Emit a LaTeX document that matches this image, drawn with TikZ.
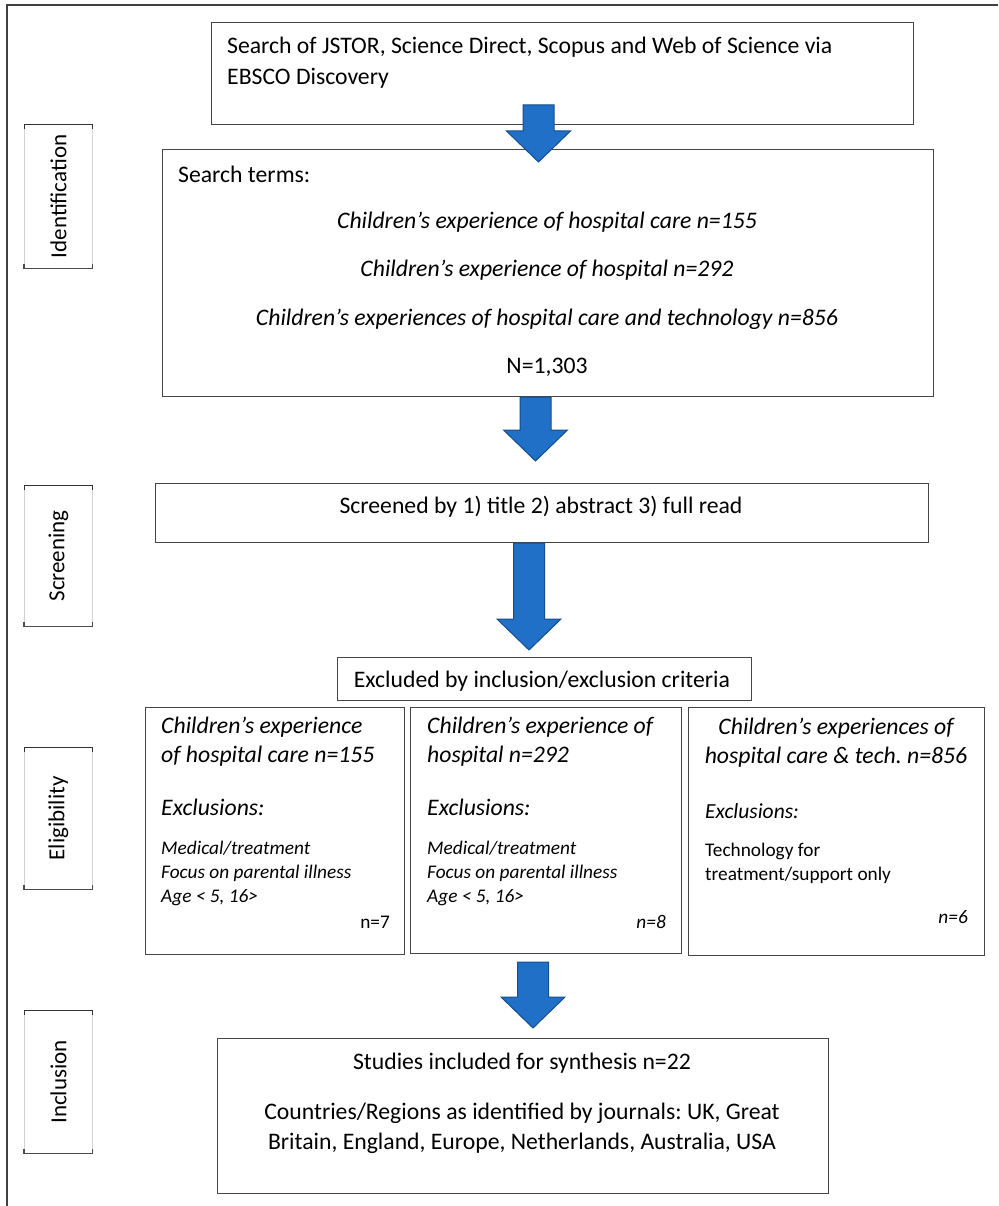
\documentclass[tikz,border=0pt]{standalone}
\usepackage{fontspec}
\setmainfont{Carlito}
\usetikzlibrary{calc}
\frenchspacing
\definecolor{arrowfill}{RGB}{31,112,198}
\definecolor{arrowline}{RGB}{22,78,140}
\definecolor{boxline}{RGB}{70,70,70}
\tikzset{
  framebox/.style={draw=boxline, line width=0.9pt, inner sep=0pt, anchor=north west, fill=white},
  sidebox/.style={draw=gray!35, line width=0.8pt, inner sep=0pt, anchor=north west, minimum width=68pt},
  txt/.style={inner sep=0pt, font=\fontsize{23.7}{28}\selectfont},
  itxt/.style={inner sep=0pt, font=\fontsize{23.7}{28}\selectfont\itshape},
  etitle/.style={inner sep=0pt, align=left, anchor=north west, font=\fontsize{23.7}{29}\selectfont\itshape},
  small/.style={inner sep=0pt, align=left, anchor=north west, font=\fontsize{19.3}{24}\selectfont},
  smallit/.style={small, font=\fontsize{19.3}{24}\selectfont\itshape},
  sidetxt/.style={inner sep=0pt, rotate=90, font=\fontsize{23}{26}\selectfont},
  blockarrow/.style={fill=arrowfill, draw=arrowline, line width=1pt, line join=miter},
  outer/.style={draw=black!75, line width=1.5pt}
}
% block arrow from top coordinate #1 to tip coordinate #2
\newcommand\blockarr[2]{%
  \path[blockarrow] let \p1=(#1), \p2=(#2) in
    (\x1-15.5pt,\y1) -- (\x1+15.5pt,\y1) -- (\x1+15.5pt,\y2+31pt) -- (\x1+32pt,\y2+31pt)
    -- (\x2,\y2) -- (\x1-32pt,\y2+31pt) -- (\x1-15.5pt,\y2+31pt) -- cycle;}
\newcommand\sidelabel[4]{% name, y top, height, text
  \node[sidebox, minimum height=#3pt] (#1) at (24,#2) {};
  \draw[black!80, line width=0.9pt] ([yshift=-5pt]#1.north west) -- (#1.north west) -- (#1.north east) -- ++(0,-5pt);
  \draw[black!70, line width=1.2pt] ([yshift=5pt]#1.south west) -- (#1.south west) -- (#1.south east) -- ++(0,5pt);
  \node[sidetxt] (#1t) at (#1.center) {#4};}
\begin{document}
\begin{tikzpicture}[x=1pt,y=-1pt]
\useasboundingbox (0,0) rectangle (998,1206);
\draw[outer] (7,1206) -- (7,5) -- (998,5);

% side labels
\sidelabel{sid}{124}{144}{Identification}
\sidelabel{ssc}{485}{141}{Screening}
\sidelabel{sel}{747}{142}{Eligibility}
\sidelabel{sin}{1010}{143}{Inclusion}

% box A
\node[framebox, minimum width=702pt, minimum height=102pt] (A) at (211,22) {};
\node[txt, anchor=west] (At1) at (227,47) {Search of JSTOR, Science Direct, Scopus and Web of Science via};
\node[txt, anchor=west] (At2) at (227,78) {EBSCO Discovery};

% box B
\node[framebox, minimum width=771pt, minimum height=247pt] (B) at (162,149) {};
\node[txt, anchor=west] (Bt0) at (178,174) {Search terms:};
\node[itxt] (Bt1) at (547,222) {Children’s experience of hospital care n=155};
\node[itxt] (Bt2) at (547,270) {Children’s experience of hospital n=292};
\node[itxt] (Bt3) at (547,319) {Children’s experiences of hospital care and technology n=856};
\node[txt] (Bt4) at (547,367) {N=1,303};

% box C
\node[framebox, minimum width=773pt, minimum height=59pt] (C) at (155,483) {};
\node[txt] (Ct) at (541,507) {Screened by 1) title 2) abstract 3) full read};

% box D
\node[framebox, minimum width=414pt, minimum height=43pt] (D) at (337,657) {};
\node[txt] (Dt) at (542,681) {Excluded by inclusion/exclusion criteria};

% eligibility boxes
\node[framebox, minimum width=259pt, minimum height=247pt] (E1) at (145,707) {};
\node[framebox, minimum width=271pt, minimum height=246pt] (E2) at (410,707) {};
\node[framebox, minimum width=296pt, minimum height=248pt] (E3) at (688,707) {};

\node[etitle] (E1a) at (161,717) {Children’s experience\\of hospital care n=155};
\node[itxt, anchor=west] (E1b) at (161,807) {Exclusions:};
\node[smallit] (E1c) at (161,841) {Medical/treatment\\Focus on parental illness\\Age < 5, 16>};
\node[small, anchor=east] (E1d) at (390,922) {n=7};

\node[etitle] (E2a) at (427,717) {Children’s experience of\\hospital n=292};
\node[itxt, anchor=west] (E2b) at (427,807) {Exclusions:};
\node[smallit] (E2c) at (427,841) {Medical/treatment\\Focus on parental illness\\Age < 5, 16>};
\node[smallit, anchor=east] (E2d) at (666,922) {n=8};

\node[etitle, align=center, anchor=north] (E3a) at (836,718) {Children’s experiences of\\hospital care \& tech. n=856};
\node[itxt, anchor=west, font=\fontsize{21.5}{26}\selectfont\itshape] (E3b) at (705,811) {Exclusions:};
\node[small] (E3c) at (705,843) {Technology for\\treatment/support only};
\node[smallit, anchor=east] (E3d) at (968,917) {n=6};

% box F
\node[framebox, minimum width=611pt, minimum height=155pt] (F) at (217,1038) {};
\node[txt] (Ft1) at (522,1063) {Studies included for synthesis n=22};
\node[txt, align=center, font=\fontsize{23.7}{30}\selectfont] (Ft2) at (522,1128) {Countries/Regions as identified by journals: UK, Great\\Britain, England, Europe, Netherlands, Australia, USA};

% arrows
\coordinate (a1s) at (538.5,105); \coordinate (a1e) at (538.5,162);
\coordinate (a2s) at (535.5,397); \coordinate (a2e) at (535.5,461);
\coordinate (a3s) at (529,543);   \coordinate (a3e) at (529,650);
\coordinate (a4s) at (533,962);   \coordinate (a4e) at (533,1028);
\blockarr{a1s}{a1e}
\blockarr{a2s}{a2e}
\blockarr{a3s}{a3e}
\blockarr{a4s}{a4e}
\end{tikzpicture}
\end{document}
